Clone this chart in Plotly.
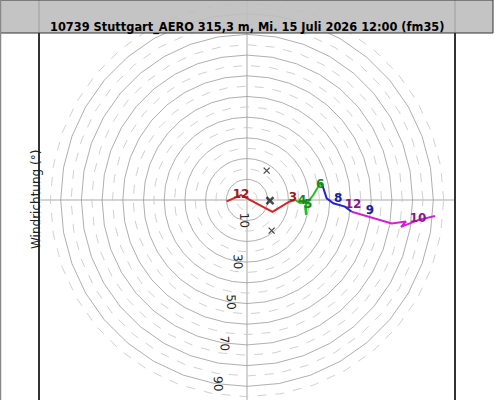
import numpy as np
import plotly.graph_objs as go

# hodograph segments (u, v in kt), coloured by height layer
red_u = [-9.8, -2.9, 12.3, 20.0, 23.2]
red_v = [-0.7, 2.4, -5.7, -1.0, 0.0]
green_u = [23.2, 25.6, 28.8, 28.5, 28.0, 32.0, 34.4, 36.1]
green_v = [0.0, -1.4, -1.1, -7.2, -2.9, 2.4, 6.4, 8.1]
blue_u = [36.1, 38.5, 41.7, 47.3, 50.6]
blue_v = [8.1, 0.8, -1.6, -3.2, -5.7]
purple_u = [50.6, 59.4, 69.9, 76.8, 74.4, 82.6, 90.8]
purple_v = [-5.7, -8.2, -11.3, -10.4, -13.0, -9.7, -7.7]

# height labels along the curve
level_text = ['12', '3', '4', '5', '6', '8', '12', '9', '10']
level_u = [-2.9, 22.2, 26.6, 29.5, 35.3, 44.0, 51.2, 59.4, 82.6]
level_v = [2.4, 1.0, -0.5, -2.4, 7.2, 0.5, -2.4, -5.3, -9.2]
level_color = ['#a01818', '#a01818', '#178a17', '#178a17', '#178a17',
               '#1c1ca0', '#8a168a', '#1c1ca0', '#8a168a']

# storm motion markers
storm_u = [9.5, 11.1, 11.9]
storm_v = [14.2, -0.3, -14.8]

rings_major = [10, 20, 30, 40, 50, 60, 70, 80, 90]
rings_minor = [5, 15, 25, 35, 45, 55, 65, 75, 85, 95]
ring_labels = [10, 30, 50, 70, 90]

title = '10739 Stuttgart_AERO 315,3 m, Mi. 15 Juli 2026 12:00 (fm35)'

fig = go.Figure()

phi = np.radians(np.arange(0, 361, 10))
for r in rings_minor:
    fig.add_trace(go.Scatter(x=r * np.cos(phi), y=r * np.sin(phi), mode='lines',
                             line=dict(color='#c4c4c4', width=0.8, dash='dash'),
                             hoverinfo='skip'))
for r in rings_major:
    fig.add_trace(go.Scatter(x=r * np.cos(phi), y=r * np.sin(phi), mode='lines',
                             line=dict(color='#9a9a9a', width=0.8),
                             hoverinfo='skip'))

segments = [(red_u, red_v, '#dd2020'), (green_u, green_v, '#20c020'),
            (blue_u, blue_v, '#2020dd'), (purple_u, purple_v, '#d020d8')]
for u, v, c in segments:
    fig.add_trace(go.Scatter(x=u, y=v, mode='lines', line=dict(color=c, width=2)))

fig.add_trace(go.Scatter(x=storm_u, y=storm_v, mode='markers',
                         marker=dict(symbol='x-thin', size=[6, 7, 6], color='black',
                                     line=dict(color='black', width=[1.3, 2.5, 1.3]))))

fig.add_trace(go.Scatter(x=level_u, y=level_v, mode='text', text=level_text,
                         textfont=dict(family='DejaVu Sans', size=12, color=level_color,
                                       weight='bold')))

# ring speed labels, rotated, slightly left of straight down
ang = np.radians(-99)
for r in ring_labels:
    fig.add_annotation(x=r * np.cos(ang), y=r * np.sin(ang), text=str(r), showarrow=False,
                       textangle=88, xanchor='center', yanchor='middle',
                       font=dict(family='DejaVu Sans', size=12, color='#222222'))

fig.add_annotation(xref='paper', yref='paper', x=36 / 495, y=0.5, text='Windrichtung (°)',
                   showarrow=False, textangle=-90, xanchor='center', yanchor='middle',
                   font=dict(family='DejaVu Sans', size=12, color='#222222'))

# grey header band
fig.add_shape(type='rect', xref='paper', yref='paper', x0=0.001, x1=493 / 495,
              y0=1 - 33 / 400, y1=1, fillcolor='rgba(190,190,190,0.9)',
              line=dict(color='#333333', width=1), layer='above')
fig.add_shape(type='line', xref='paper', yref='paper', x0=0.001, x1=0.001, y0=0, y1=1,
              line=dict(color='#888888', width=1.5))
fig.add_annotation(xref='paper', yref='paper', x=247 / 495, y=1 - 27 / 400, text=title,
                   showarrow=False, xanchor='center', yanchor='middle',
                   font=dict(family='DejaVu Sans', size=11.4, color='black', weight='bold'))

fig.update_layout(width=495, height=400, margin=dict(l=0, r=0, t=0, b=0),
                  showlegend=False, plot_bgcolor='white', paper_bgcolor='white',
                  xaxis=dict(domain=[40 / 495, 454 / 495], range=[-100, 100],
                             showgrid=False, showticklabels=False, ticks='',
                             zeroline=True, zerolinecolor='#d4d4d4', zerolinewidth=1.5),
                  yaxis=dict(range=[-96.6, 96.6], showgrid=False, showticklabels=False,
                             ticks='', zeroline=True, zerolinecolor='#d4d4d4',
                             zerolinewidth=1.5, showline=True, mirror=True,
                             linecolor='#333333', linewidth=1.5))

# drop the browser's default 8px body margin so the figure sits at the page corner
fig.write_html("out.html", config={'displayModeBar': False},
               post_script="document.body.style.margin='0';")
